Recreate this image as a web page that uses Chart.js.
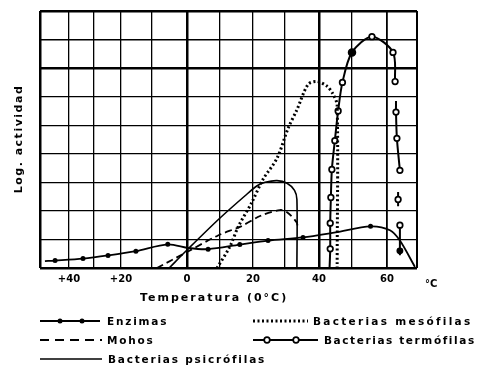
<!DOCTYPE html>
<html>
<head>
<meta charset="utf-8">
<script src="https://cdn.jsdelivr.net/npm/chart.js@4.4.1/dist/chart.umd.min.js"></script>
<style>
html,body{margin:0;padding:0;background:#fff;}
#wrap{position:relative;width:482px;height:372px;overflow:hidden;font-family:"DejaVu Sans",sans-serif;font-weight:bold;color:#000;}
#wrap canvas{position:absolute;left:0;top:0;}
#wrap svg{position:absolute;left:0;top:0;pointer-events:none;}
.t{position:absolute;white-space:nowrap;}
.lg{font-size:10.5px;line-height:13px;letter-spacing:1.8px;}
</style>
</head>
<body>
<div id="wrap">
<canvas id="c" width="482" height="372"></canvas>
<svg width="482" height="372" viewBox="0 0 482 372">
  <g stroke="#000" fill="none">
    <line x1="40" y1="321" x2="100" y2="321" stroke-width="1.8"/>
    <line x1="40" y1="340" x2="102" y2="340" stroke-width="1.8" stroke-dasharray="9 6"/>
    <line x1="40" y1="359" x2="102" y2="359" stroke-width="1.6"/>
    <line x1="253" y1="321" x2="308" y2="321" stroke-width="3" stroke-dasharray="2 2.5"/>
    <line x1="253" y1="340" x2="318" y2="340" stroke-width="1.8"/>
  </g>
  <circle cx="60" cy="321" r="2.5" fill="#000"/>
  <circle cx="82" cy="321" r="2.5" fill="#000"/>
  <circle cx="267" cy="340" r="2.8" fill="#fff" stroke="#000" stroke-width="1.7"/>
  <circle cx="296" cy="340" r="2.8" fill="#fff" stroke="#000" stroke-width="1.7"/>
</svg>
<div class="t" style="left:18px;top:139px;transform:translate(-50%,-50%) rotate(-90deg);font-size:11px;line-height:13px;letter-spacing:1.5px;">Log. actividad</div>
<div class="t" style="left:140px;top:291px;font-size:11px;line-height:13px;letter-spacing:2px;">Temperatura (0°C)</div>
<div class="t" style="left:425px;top:278px;font-size:10px;line-height:12px;">°C</div>
<div class="t lg" style="left:107px;top:314.7px;">Enzimas</div>
<div class="t lg" style="left:107px;top:333.7px;">Mohos</div>
<div class="t lg" style="left:108px;top:352.7px;">Bacterias psicrófilas</div>
<div class="t lg" style="left:313px;top:314.7px;letter-spacing:2.3px;">Bacterias mesófilas</div>
<div class="t lg" style="left:324px;top:333.7px;letter-spacing:1.6px;">Bacterias termófilas</div>
</div>
<script>
// ---- Data (temperature in °C, log activity in grid units) ----
const xTickValues = [-40, -20, 0, 20, 40, 60];
const xTickLabels = ['+40', '+20', '0', '20', '40', '60'];

const enzimasT = [-48.3, -44.8, -34.4, -24.8, -15.2, -5.5, 0.5, 6.4, 16, 24.7, 35.3, 45, 55.3, 61, 64.3, 69.3];
const enzimasV = [0.24, 0.26, 0.33, 0.44, 0.59, 0.83, 0.7, 0.66, 0.82, 0.96, 1.07, 1.25, 1.46, 1.32, 0.96, 0.04];

const mohosT = [-8.6, 0, 9.4, 16.4, 22.2, 28.4, 30.6, 33.4, 33.8];
const mohosV = [0, 0.56, 1.14, 1.46, 1.82, 2.03, 1.95, 1.6, 1.35];

const psicrofilasT = [-5.1, 0, 10, 17.6, 21.3, 23.8, 27.5, 30.6, 32.8, 33.5, 33.5];
const psicrofilasV = [0, 0.63, 1.75, 2.53, 2.88, 3.0, 3.06, 2.97, 2.72, 2.4, 0];

const mesofilasT = [9.1, 13, 15.5, 19.7, 23.1, 27.5, 30.9, 33.5, 36.8, 39.4, 42.4, 44.2, 45.5, 45.5];
const mesofilasV = [0, 0.75, 1.44, 2.31, 3.1, 3.84, 4.89, 5.54, 6.43, 6.53, 6.37, 6.1, 5.7, 0];

const termofilasT = [43.2, 43.4, 43.4, 43.6, 43.9, 44.8, 45.8, 47.1, 50, 55.7, 62, 62.7, null, 63, 63, 63.3, 64.3, null, 63.7, 63.7, 63.7, null, 64.3, 64.3, 64.3];
const termofilasV = [0, 0.67, 1.57, 2.47, 3.45, 4.46, 5.5, 6.5, 7.55, 8.1, 7.55, 6.53, null, 5.85, 5.46, 4.54, 3.42, null, 2.66, 2.4, 2.16, null, 1.5, 0.6, 0.45];

// ---- Hand-drawn x axis: relative widths of the 10 °C grid columns ----
const X_MIN = -50, X_MAX = 70, X_STEP = 10;
const columnWidths = [29, 25, 27, 31, 35, 33, 33, 32, 34, 33, 35, 30];
const colTotal = columnWidths.reduce((a, b) => a + b, 0);
const colStart = [];
columnWidths.reduce((acc, w, i) => { colStart[i] = acc; return acc + w; }, 0);

function warp(v) {
  const t = (v - X_MIN) / X_STEP;
  let i = Math.floor(t);
  i = Math.max(0, Math.min(columnWidths.length - 1, i));
  const f = t - i;
  return (colStart[i] + f * columnWidths[i]) / colTotal;
}
function unwarp(d) {
  const p = d * colTotal;
  let i = 0;
  while (i < columnWidths.length - 1 && p > colStart[i] + columnWidths[i]) i++;
  return X_MIN + (i + (p - colStart[i]) / columnWidths[i]) * X_STEP;
}

class WarpLinearScale extends Chart.LinearScale {
  static id = 'warpLinear';
  static defaults = Chart.LinearScale.defaults;
  getPixelForValue(value) {
    if (value === null || value === undefined || isNaN(value)) return NaN;
    return this.getPixelForDecimal(warp(value));
  }
  getValueForPixel(pixel) {
    return unwarp(this.getDecimalForPixel(pixel));
  }
}
Chart.register(WarpLinearScale);

const pts = (T, V) => T.map((t, i) => ({ x: t, y: V[i] }));

const thickX = [-50, 0, 40];
const thickY = [0, 7, 9];

new Chart(document.getElementById('c'), {
  type: 'line',
  data: {
    datasets: [
      {
        label: 'Enzimas',
        data: pts(enzimasT, enzimasV),
        borderColor: '#000', borderWidth: 1.8, tension: 0.3,
        pointRadius: [0, 2.5, 2.5, 2.5, 2.5, 2.5, 0, 2.5, 2.5, 2.5, 2.5, 0, 2.5, 0, 0, 0],
        pointBackgroundColor: '#000', pointBorderWidth: 0
      },
      {
        label: 'Mohos',
        data: pts(mohosT, mohosV),
        borderColor: '#000', borderWidth: 1.8, borderDash: [7, 4], tension: 0.3,
        pointRadius: 0
      },
      {
        label: 'Bacterias psicrófilas',
        data: pts(psicrofilasT, psicrofilasV),
        borderColor: '#000', borderWidth: 1.6, tension: 0.3,
        pointRadius: 0
      },
      {
        label: 'Bacterias mesófilas',
        data: pts(mesofilasT, mesofilasV),
        borderColor: '#000', borderWidth: 3, borderDash: [2, 2.5], tension: 0.3,
        pointRadius: 0
      },
      {
        label: 'Bacterias termófilas',
        data: pts(termofilasT, termofilasV),
        borderColor: '#000', borderWidth: 2, tension: 0.3, spanGaps: false,
        pointRadius: [0, 2.8, 2.8, 2.8, 2.8, 2.8, 2.8, 2.8, 3.4, 2.8, 2.8, 2.8, 0, 0, 2.8, 2.8, 2.8, 0, 0, 2.8, 0, 0, 2.8, 2.6, 0],
        pointBackgroundColor: ['#fff', '#fff', '#fff', '#fff', '#fff', '#fff', '#fff', '#fff', '#000', '#fff', '#fff', '#fff', '#fff', '#fff', '#fff', '#fff', '#fff', '#fff', '#fff', '#fff', '#fff', '#fff', '#fff', '#000', '#fff'],
        pointBorderColor: '#000', pointBorderWidth: 1.7
      }
    ]
  },
  options: {
    responsive: false,
    animation: false,
    devicePixelRatio: 1,
    layout: { padding: { left: 40, top: 11, right: 65, bottom: 82 } },
    plugins: { legend: { display: false }, tooltip: { enabled: false } },
    events: [],
    scales: {
      x: {
        type: 'warpLinear',
        min: X_MIN, max: X_MAX,
        border: { display: false },
        grid: {
          color: '#000',
          drawTicks: false,
          lineWidth: (ctx) => {
            const v = ctx.tick ? ctx.tick.value : null;
            if (thickX.includes(v)) return 2.5;
            if (v === 70) return 2;
            if (v === 60) return 1.8;
            return 1.3;
          }
        },
        ticks: {
          stepSize: X_STEP, autoSkip: false, maxRotation: 0, padding: 5,
          color: '#000',
          font: { family: 'DejaVu Sans', weight: 'bold', size: 10 },
          callback: (v) => { const i = xTickValues.indexOf(v); return i < 0 ? '' : xTickLabels[i]; }
        }
      },
      y: {
        type: 'linear',
        min: 0, max: 9,
        border: { display: false },
        grid: {
          color: '#000',
          drawTicks: false,
          lineWidth: (ctx) => {
            const v = ctx.tick ? ctx.tick.value : null;
            if (thickY.includes(v)) return 2.5;
            if (v === 8) return 1.6;
            return 1.3;
          }
        },
        ticks: { display: false, stepSize: 1 }
      }
    }
  }
});
</script>
</body>
</html>
